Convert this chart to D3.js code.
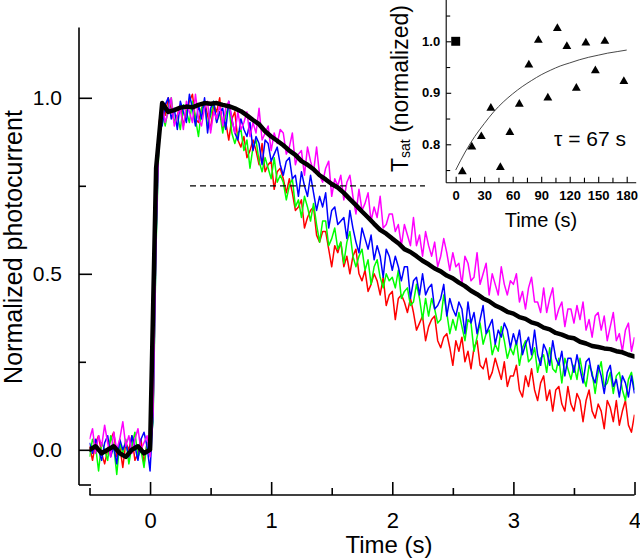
<!DOCTYPE html>
<html><head><meta charset="utf-8">
<script src="https://cdn.jsdelivr.net/npm/d3@7"></script>
<style>body{margin:0;background:#fff} svg{display:block} text{font-family:"Liberation Sans",Arial,Helvetica,sans-serif}</style>
</head><body><svg id="c" width="640" height="560"></svg>
<script>
// ---- main traces: sampled every 0.025 s from -0.5 s ----
const sampleStart = -0.5, sampleStep = 0.025;
const red = [0.01,-0.03,0.02,0.04,-0.01,-0.04,0.00,0.03,0.05,-0.02,0.01,-0.05,0.02,0.00,0.04,-0.03,-0.01,0.03,-0.04,0.02,0.01,
0.12,0.62,0.93,
0.98,0.95,1.00,0.97,0.93,0.95,0.98,0.92,0.96,0.99,1.01,0.94,0.93,0.97,0.99,0.95,0.91,0.98,0.96,1.00,
0.91,0.93,0.88,0.94,0.96,0.88,0.86,0.89,0.83,0.85,0.88,0.85,0.81,0.87,0.79,0.81,
0.82,0.74,0.79,0.80,0.77,0.73,0.77,0.73,0.68,0.69,0.71,0.63,0.66,0.68,0.69,0.61,0.59,0.62,0.62,0.57,
0.52,0.58,0.56,0.59,0.52,0.55,0.50,0.55,0.57,0.50,0.48,0.51,0.45,0.47,0.50,0.48,0.44,0.49,0.41,0.44,
0.45,0.37,0.43,0.44,0.42,0.39,0.43,0.39,0.34,0.36,0.38,0.31,0.35,0.37,0.38,0.31,0.29,0.32,0.33,0.29,
0.24,0.31,0.28,0.32,0.25,0.28,0.23,0.29,0.31,0.24,0.23,0.26,0.20,0.22,0.26,0.23,0.20,0.25,0.18,0.21,
0.21,0.24,0.17,0.15,0.21,0.18,0.23,0.17,0.14,0.19,0.21,0.14,0.17,0.11,0.17,0.18,0.13,0.11,0.18,0.13,
0.11,0.16,0.14,0.08,0.14,0.17,0.11,0.09,0.13,0.11,0.06,0.14,0.12,0.08,0.14,0.07,0.11,0.14,0.07,0.05,0.10];
const green = [-0.02,0.03,0.01,-0.06,0.02,0.00,-0.03,0.04,0.01,-0.07,0.02,-0.01,0.03,-0.04,0.01,0.05,-0.02,0.00,-0.05,0.02,0.01,
0.08,0.58,0.90,
0.96,0.92,0.97,1.00,0.93,0.95,0.91,0.98,0.96,0.93,0.99,0.94,0.89,0.97,0.98,0.92,0.95,0.99,0.93,0.96,
0.90,0.95,0.98,0.90,0.87,0.90,0.91,0.85,0.88,0.80,0.86,0.88,0.82,0.79,0.83,0.80,
0.77,0.83,0.76,0.78,0.76,0.71,0.75,0.77,0.69,0.71,0.66,0.72,0.69,0.65,0.70,0.64,0.59,0.65,0.65,0.58,
0.60,0.63,0.57,0.59,0.53,0.59,0.62,0.55,0.52,0.55,0.57,0.51,0.54,0.47,0.52,0.54,0.49,0.46,0.50,0.48,
0.49,0.46,0.51,0.43,0.45,0.46,0.41,0.42,0.47,0.43,0.37,0.43,0.38,0.43,0.40,0.36,0.37,0.44,0.39,0.33,
0.37,0.34,0.39,0.35,0.31,0.37,0.36,0.28,0.32,0.36,0.30,0.33,0.34,0.27,0.30,0.28,0.35,0.31,0.26,0.29,
0.27,0.31,0.24,0.29,0.31,0.25,0.26,0.29,0.22,0.26,0.27,0.22,0.29,0.23,0.22,0.26,0.19,0.26,0.23,0.20,
0.24,0.20,0.26,0.21,0.18,0.24,0.22,0.16,0.22,0.25,0.18,0.19,0.22,0.16,0.21,0.22,0.17,0.14,0.20,0.22,0.17];
const blue = [0.02,-0.01,0.03,0.00,-0.03,0.02,0.04,-0.02,0.01,-0.04,0.03,0.00,0.02,-0.02,0.04,0.01,-0.03,0.03,0.05,0.01,-0.06,
0.10,0.60,0.92,
0.92,0.98,1.00,0.94,0.97,0.91,0.99,0.96,0.93,1.01,0.97,0.92,0.98,0.94,1.00,0.90,0.97,0.99,0.93,0.96,
0.97,0.91,0.99,0.94,0.90,0.88,0.94,0.91,0.89,0.93,0.85,0.89,0.87,0.81,0.88,0.87,
0.82,0.84,0.86,0.81,0.78,0.82,0.83,0.77,0.78,0.72,0.79,0.75,0.72,0.78,0.73,0.68,0.72,0.69,0.73,0.63,
0.68,0.69,0.64,0.65,0.66,0.60,0.68,0.63,0.59,0.56,0.63,0.60,0.57,0.61,0.54,0.58,0.55,0.49,0.57,0.55,
0.51,0.55,0.52,0.48,0.52,0.52,0.43,0.48,0.49,0.44,0.50,0.44,0.46,0.47,0.40,0.41,0.43,0.47,0.38,0.43,
0.40,0.38,0.42,0.40,0.33,0.42,0.36,0.39,0.33,0.37,0.41,0.33,0.35,0.37,0.30,0.34,0.32,0.36,0.34,0.29,
0.33,0.30,0.34,0.27,0.30,0.32,0.27,0.34,0.27,0.24,0.30,0.28,0.24,0.31,0.26,0.24,0.28,0.21,0.26,0.26,
0.22,0.27,0.23,0.19,0.25,0.26,0.21,0.19,0.24,0.21,0.16,0.22,0.24,0.18,0.20,0.15,0.21,0.19,0.15,0.21,0.16];
const magenta = [0.03,0.06,-0.01,0.04,0.01,0.07,0.02,-0.02,0.05,0.00,0.03,0.08,0.01,0.04,-0.01,0.03,0.06,0.00,0.02,0.04,-0.02,
0.11,0.63,0.91,
0.98,0.93,0.96,1.00,0.92,0.95,0.97,0.91,0.99,0.96,0.93,1.01,0.94,0.92,0.97,0.99,0.90,0.96,0.94,0.98,
0.92,0.97,0.99,0.94,0.90,0.96,0.91,0.93,0.96,0.89,0.93,0.90,0.97,0.88,0.90,0.92,
0.85,0.90,0.87,0.91,0.90,0.84,0.86,0.90,0.81,0.84,0.85,0.78,0.86,0.82,0.79,0.86,0.78,0.76,0.80,0.82,
0.72,0.77,0.75,0.78,0.71,0.76,0.78,0.72,0.67,0.74,0.68,0.70,0.73,0.65,0.69,0.66,0.72,0.63,0.64,0.67,
0.67,0.62,0.64,0.58,0.64,0.61,0.58,0.66,0.58,0.61,0.55,0.62,0.58,0.55,0.59,0.52,0.55,0.60,0.56,0.51,
0.56,0.52,0.53,0.47,0.55,0.53,0.48,0.49,0.56,0.47,0.50,0.53,0.44,0.50,0.47,0.44,0.52,0.47,0.44,0.48,
0.47,0.50,0.42,0.45,0.40,0.46,0.49,0.42,0.42,0.39,0.46,0.39,0.43,0.46,0.37,0.40,0.42,0.35,0.40,0.40,
0.36,0.41,0.37,0.42,0.34,0.37,0.32,0.38,0.39,0.34,0.38,0.31,0.35,0.39,0.31,0.33,0.28,0.34,0.36,0.28,0.32];
// ---- black (mean) trace: every 0.05 s from -0.5 s ----
const blackStart = -0.5, blackStep = 0.05;
const black = [0.00,0.01,-0.01,0.00,0.01,-0.01,-0.02,0.00,0.01,-0.01,
0.00,0.80,0.985,0.96,0.965,0.972,0.975,0.973,0.98,0.985,0.983,0.985,0.98,0.976,0.97,0.962,0.95,0.937,0.925,0.905,
0.89,0.878,0.865,0.85,0.838,0.82,0.81,0.797,0.78,0.768,0.755,0.745,0.73,0.712,0.695,0.677,0.66,0.642,0.625,0.614,
0.60,0.587,0.57,0.562,0.55,0.537,0.527,0.515,0.507,0.495,0.487,0.475,0.465,0.452,0.442,0.43,0.422,0.41,0.402,0.392,
0.387,0.377,0.372,0.362,0.357,0.347,0.342,0.332,0.327,0.32,0.317,0.307,0.302,0.295,0.292,0.288,0.286,0.28,0.277,0.27,0.265];
const traceColors = ["#ff0000","#00ff00","#0000ff","#ff00ff"];
const xTicks = [0,1,2,3,4];
const xMinor = [-0.5,0.5,1.5,2.5,3.5];
const yTicks = [0.0,0.5,1.0];
const yMinor = [0.25,0.75];
const dashLevel = 0.75, dashFrom = 0.33, dashTo = 2.27;

// ---- inset ----
const insetTime = [7,17,27,37,47,57,67,77,87,97,107,117,127,137,147,157,177];
const insetTsat = [0.747,0.795,0.815,0.870,0.755,0.823,0.878,0.954,1.002,0.890,1.025,0.990,0.909,0.997,0.943,1.000,0.922];
const refTime = [0], refTsat = [1.0];
const fitTime = [0,10,20,30,40,50,60,70,80,90,100,110,120,130,140,150,160,170,180];
const fitTsat = [0.75,0.785,0.815,0.840,0.863,0.882,0.898,0.912,0.924,0.935,0.944,0.952,0.958,0.964,0.969,0.973,0.977,0.980,0.983];
const insetXTicks = [0,30,60,90,120,150,180];
const insetXMinor = [15,45,75,105,135,165];
const insetYTicks = [0.8,0.9,1.0];
const insetYMinor = [0.75,0.85,0.95,1.05];

const svg = d3.select("#c");
const fmt1 = d3.format(".1f");

// main scales
const x = d3.scaleLinear().domain([-0.5,4]).range([89.5,634.5]);
const y = d3.scaleLinear().domain([-0.1,1.2]).range([485,27.4]);

svg.append("clipPath").attr("id","mc").append("rect")
  .attr("x",x(-0.5)).attr("y",0).attr("width",x(4)-x(-0.5)).attr("height",492);

const gTr = svg.append("g").attr("clip-path","url(#mc)");
const line = d3.line().x(d=>x(d[0])).y(d=>y(d[1]));
[red,green,blue,magenta].forEach((arr,k)=>{
  const pts = arr.map((v,i)=>[sampleStart+i*sampleStep, v]);
  gTr.append("path").attr("d",line(pts)).attr("fill","none")
    .attr("stroke",traceColors[k]).attr("stroke-width",1.5).attr("stroke-linejoin","round");
});
gTr.append("path").attr("d",line(black.map((v,i)=>[blackStart+i*blackStep,v])))
  .attr("fill","none").attr("stroke","#000").attr("stroke-width",4.5).attr("stroke-linejoin","round").attr("stroke-linecap","round");

// dashed level
svg.append("line").attr("x1",x(dashFrom)).attr("x2",x(dashTo)).attr("y1",y(dashLevel)).attr("y2",y(dashLevel))
  .attr("stroke","#000").attr("stroke-width",1.3).attr("stroke-dasharray","6,4");

// main axes
const xAxisY = 495, yAxisX = 79;
svg.append("line").attr("x1",x(-0.5)).attr("x2",x(4)).attr("y1",xAxisY).attr("y2",xAxisY).attr("stroke","#000").attr("stroke-width",1.6);
svg.append("line").attr("x1",yAxisX).attr("x2",yAxisX).attr("y1",y(1.2)).attr("y2",y(-0.1)).attr("stroke","#000").attr("stroke-width",1.6);
svg.append("line").attr("x1",yAxisX).attr("x2",yAxisX+12).attr("y1",y(-0.1)).attr("y2",y(-0.1)).attr("stroke","#000").attr("stroke-width",1.6);

const gx = svg.append("g").attr("transform",`translate(0,${xAxisY})`)
  .call(d3.axisBottom(x).tickValues(xTicks).tickFormat(d3.format("d")).tickSize(-13).tickPadding(17));
const gxm = svg.append("g").attr("transform",`translate(0,${xAxisY})`)
  .call(d3.axisBottom(x).tickValues(xMinor).tickFormat("").tickSize(-7));
const gy = svg.append("g").attr("transform",`translate(${yAxisX},0)`)
  .call(d3.axisLeft(y).tickValues(yTicks).tickFormat(fmt1).tickSize(-13).tickPadding(17));
const gym = svg.append("g").attr("transform",`translate(${yAxisX},0)`)
  .call(d3.axisLeft(y).tickValues(yMinor).tickFormat("").tickSize(-7));
[gx,gxm,gy,gym].forEach(g=>{g.select(".domain").remove(); g.selectAll("line").attr("stroke-width",1.6);});
gx.selectAll("text").attr("font-size",22).attr("fill","#000");
gy.selectAll("text").attr("font-size",21).attr("fill","#000");

svg.append("text").attr("x",389).attr("y",553).attr("text-anchor","middle").attr("font-size",24).text("Time (s)");
svg.append("text").attr("transform","translate(22,247) rotate(-90)").attr("text-anchor","middle").attr("font-size",25).text("Normalized photocurrent");

// inset scales
const ix = d3.scaleLinear().domain([-10,190]).range([446.2,636.2]);
const iy = d3.scaleLinear().domain([0.7254,1.1]).range([182.7,-10.2]);
const ixAxisY = 182.7, iyAxisX = 446.2;
svg.append("line").attr("x1",ix(-10)).attr("x2",ix(190)).attr("y1",ixAxisY).attr("y2",ixAxisY).attr("stroke","#000").attr("stroke-width",1.1);
svg.append("line").attr("x1",iyAxisX).attr("x2",iyAxisX).attr("y1",-2).attr("y2",ixAxisY).attr("stroke","#000").attr("stroke-width",1.1);
const igx = svg.append("g").attr("transform",`translate(0,${ixAxisY})`)
  .call(d3.axisBottom(ix).tickValues(insetXTicks).tickFormat(d3.format("d")).tickSize(-6).tickPadding(8));
const igxm = svg.append("g").attr("transform",`translate(0,${ixAxisY})`)
  .call(d3.axisBottom(ix).tickValues(insetXMinor).tickFormat("").tickSize(-5));
const igy = svg.append("g").attr("transform",`translate(${iyAxisX},0)`)
  .call(d3.axisLeft(iy).tickValues(insetYTicks).tickFormat(fmt1).tickSize(-5).tickPadding(6));
const igym = svg.append("g").attr("transform",`translate(${iyAxisX},0)`)
  .call(d3.axisLeft(iy).tickValues(insetYMinor).tickFormat("").tickSize(-4));
[igx,igxm,igy,igym].forEach(g=>{g.select(".domain").remove(); g.selectAll("line").attr("stroke-width",1.1);});
[igx,igy].forEach(g=>g.selectAll("text").attr("font-size",13).attr("font-weight","bold").attr("fill","#000"));

// fit curve
svg.append("path").attr("d",d3.line().x((d,i)=>ix(fitTime[i])).y(d=>iy(d)).curve(d3.curveMonotoneX)(fitTsat))
  .attr("fill","none").attr("stroke","#333").attr("stroke-width",0.9);
// points
svg.append("g").selectAll("path").data(insetTime).join("path")
  .attr("transform",(d,i)=>`translate(${ix(d)},${iy(insetTsat[i])})`)
  .attr("d",d3.symbol(d3.symbolTriangle,34)()).attr("fill","#000");
svg.append("g").selectAll("path").data(refTime).join("path")
  .attr("transform",(d,i)=>`translate(${ix(d)},${iy(refTsat[i])})`)
  .attr("d",d3.symbol(d3.symbolSquare,80)()).attr("fill","#000");

svg.append("text").attr("x",554).attr("y",146).attr("font-size",21).text("τ = 67 s");
svg.append("text").attr("x",541).attr("y",227).attr("text-anchor","middle").attr("font-size",20).text("Time (s)");

const it = svg.append("text").attr("transform","translate(408,172) rotate(-90)").attr("font-size",23);
it.append("tspan").text("T");
it.append("tspan").attr("font-size",14).attr("dy",2).text("sat");
it.append("tspan").attr("dy",-2).text(" (normalized)");
</script></body></html>
